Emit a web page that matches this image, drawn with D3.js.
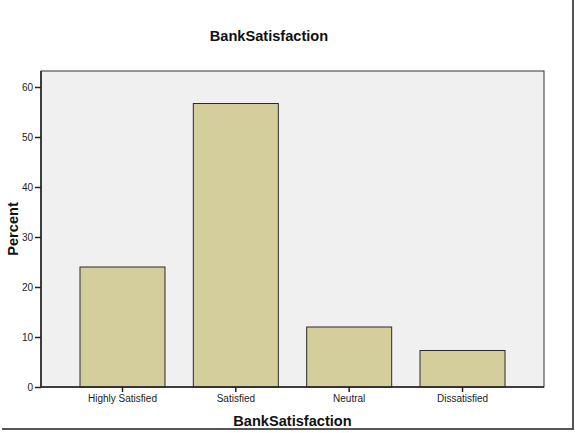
<!DOCTYPE html>
<html>
<head>
<meta charset="utf-8">
<script src="https://cdn.jsdelivr.net/npm/d3@7"></script>
<style>
  body { margin: 0; background: #fff; }
  svg { display: block; font-family: "Liberation Sans", Arial, sans-serif; }
</style>
</head>
<body>
<svg class="chart"></svg>
<script>
// BankSatisfaction, percent of respondents
var categories = ["Highly Satisfied", "Satisfied", "Neutral", "Dissatisfied"];
var percents = [24.0, 56.7, 12.0, 7.3];
var yTicks = [0, 10, 20, 30, 40, 50, 60];

var svgWidth = 577, svgHeight = 433;
var plot = { left: 41, right: 544, top: 71, bottom: 387 };

var svg = d3.select(".chart")
  .attr("width", svgWidth)
  .attr("height", svgHeight);

var xScale = d3.scaleBand()
  .domain(categories)
  .range([plot.left, plot.right])
  .paddingInner(0.25)
  .paddingOuter(0.344);

var yScale = d3.scaleLinear()
  .domain([0, 60])
  .range([387, 87]);

// picture frame (shadow on right / bottom)
svg.append("line")
  .attr("x1", 573).attr("x2", 573).attr("y1", 0).attr("y2", 430)
  .attr("stroke", "#555").attr("stroke-width", 2);
svg.append("line")
  .attr("x1", 2).attr("x2", 574).attr("y1", 429).attr("y2", 429)
  .attr("stroke", "#555").attr("stroke-width", 2);

// plot background
svg.append("rect")
  .attr("x", plot.left)
  .attr("y", plot.top)
  .attr("width", plot.right - plot.left)
  .attr("height", plot.bottom - plot.top)
  .attr("fill", "#f0f0f0")
  .attr("stroke", "#333")
  .attr("stroke-width", 1);

svg.selectAll("rect.bar")
  .data(percents)
  .enter()
  .append("rect")
  .attr("class", "bar")
  .attr("x", function (d, i) { return xScale(categories[i]); })
  .attr("y", function (d) { return yScale(d); })
  .attr("width", xScale.bandwidth())
  .attr("height", function (d) { return yScale(0) - yScale(d); })
  .attr("fill", "#d3ce9b")
  .attr("stroke", "#2b2b2b")
  .attr("stroke-width", 1);

var y_axis = d3.axisLeft(yScale).tickValues(yTicks).tickSize(6).tickPadding(2);
var gy = svg.append("g")
  .attr("transform", "translate(" + plot.left + ",0)")
  .call(y_axis);
gy.select(".domain").remove();
gy.append("line")
  .attr("x1", 0).attr("x2", 0).attr("y1", plot.top).attr("y2", plot.bottom)
  .attr("stroke", "#222").attr("stroke-width", 1.5);

var x_axis = d3.axisBottom(xScale).tickSize(5).tickPadding(3);
var gx = svg.append("g")
  .attr("transform", "translate(0," + plot.bottom + ")")
  .call(x_axis);
gx.select(".domain").remove();
gx.append("line")
  .attr("x1", plot.left).attr("x2", plot.right).attr("y1", 0).attr("y2", 0)
  .attr("stroke", "#222").attr("stroke-width", 1.5);

svg.selectAll(".tick line").attr("stroke", "#222").attr("stroke-width", 1.5);
svg.selectAll(".tick text")
  .attr("fill", "#222")
  .style("font-size", "10px")
  .style("font-family", "'Liberation Sans', Arial, sans-serif");

// titles
svg.append("text")
  .attr("x", 269)
  .attr("y", 41)
  .attr("text-anchor", "middle")
  .style("font-size", "14.6px")
  .style("font-weight", "bold")
  .attr("fill", "#111")
  .text("BankSatisfaction");

svg.append("text")
  .attr("x", (plot.left + plot.right) / 2)
  .attr("y", 426)
  .attr("text-anchor", "middle")
  .style("font-size", "14.6px")
  .style("font-weight", "bold")
  .attr("fill", "#111")
  .text("BankSatisfaction");

svg.append("text")
  .attr("transform", "translate(18," + ((plot.top + plot.bottom) / 2) + ") rotate(-90)")
  .attr("text-anchor", "middle")
  .style("font-size", "14.6px")
  .style("font-weight", "bold")
  .attr("fill", "#111")
  .text("Percent");
</script>
</body>
</html>
